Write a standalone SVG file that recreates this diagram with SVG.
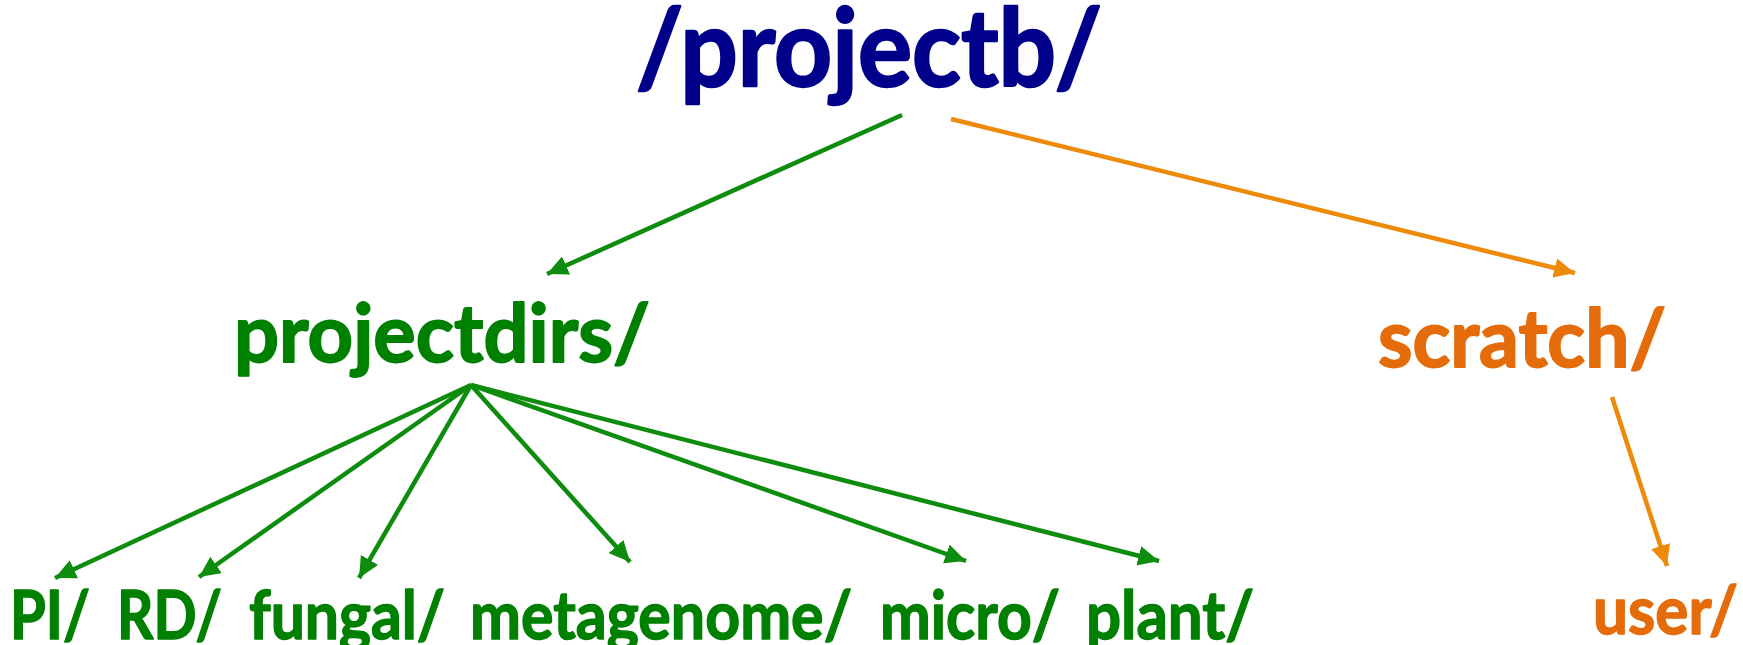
<svg xmlns="http://www.w3.org/2000/svg" width="1743" height="645" viewBox="0 0 1743 645">
<style>
text{font-family:Lato,"Open Sans","Liberation Sans",sans-serif;font-weight:bold;stroke-linejoin:round}
.t0{fill:#00008B;stroke:#00008B;stroke-width:2.4;font-size:108px}
.g{fill:#008000;stroke:#008000}
.o{fill:#E46C0A;stroke:#E46C0A}
.m{font-size:80px;stroke-width:1.8}
.s{font-size:66px;stroke-width:1.4}
.cg{stroke:#0E8C0E;stroke-width:4.5;fill:none}
.co{stroke:#EE8A0A;stroke-width:4.5;fill:none}
</style>
<defs>
<marker id="ag" markerUnits="userSpaceOnUse" markerWidth="22" markerHeight="20" refX="19" refY="9" orient="auto" viewBox="0 0 20 18"><path d="M0,0 L19,9 L0,18 Z" fill="#0E8C0E"/></marker>
<marker id="ao" markerUnits="userSpaceOnUse" markerWidth="22" markerHeight="20" refX="19" refY="9" orient="auto" viewBox="0 0 20 18"><path d="M0,0 L19,9 L0,18 Z" fill="#EE8A0A"/></marker>
</defs>
<g id="connectors">
<line class="cg" x1="902" y1="115" x2="547" y2="274" marker-end="url(#ag)"/>
<line class="co" x1="951" y1="119" x2="1575" y2="273" marker-end="url(#ao)"/>
<line class="cg" x1="471" y1="385" x2="55" y2="578" marker-end="url(#ag)"/>
<line class="cg" x1="471" y1="385" x2="199" y2="577" marker-end="url(#ag)"/>
<line class="cg" x1="471" y1="385" x2="359" y2="578" marker-end="url(#ag)"/>
<line class="cg" x1="471" y1="385" x2="630" y2="562" marker-end="url(#ag)"/>
<line class="cg" x1="471" y1="385" x2="966" y2="561" marker-end="url(#ag)"/>
<line class="cg" x1="471" y1="385" x2="1159" y2="561" marker-end="url(#ag)"/>
<line class="co" x1="1612" y1="397" x2="1667" y2="566" marker-end="url(#ao)"/>
</g>
<g id="projectb"><text class="t0" x="636" y="86" textLength="466" lengthAdjust="spacingAndGlyphs">/projectb/</text></g>
<g id="projectdirs"><text class="g m" x="234" y="362" textLength="416" lengthAdjust="spacingAndGlyphs">projectdirs/</text></g>
<g id="scratch"><text class="o m" x="1378" y="367" textLength="288" lengthAdjust="spacingAndGlyphs">scratch/</text></g>
<g id="PI"><text class="g s" x="10" y="639" textLength="80" lengthAdjust="spacingAndGlyphs">PI/</text></g>
<g id="RD"><text class="g s" x="117" y="639" textLength="105" lengthAdjust="spacingAndGlyphs">RD/</text></g>
<g id="fungal"><text class="g s" x="249" y="639" textLength="196" lengthAdjust="spacingAndGlyphs">fungal/</text></g>
<g id="metagenome"><text class="g s" x="470" y="639" textLength="382" lengthAdjust="spacingAndGlyphs">metagenome/</text></g>
<g id="micro"><text class="g s" x="880" y="639" textLength="180" lengthAdjust="spacingAndGlyphs">micro/</text></g>
<g id="plant"><text class="g s" x="1086" y="639" textLength="168" lengthAdjust="spacingAndGlyphs">plant/</text></g>
<g id="user"><text class="o s" x="1593" y="634" textLength="145" lengthAdjust="spacingAndGlyphs">user/</text></g>
</svg>
